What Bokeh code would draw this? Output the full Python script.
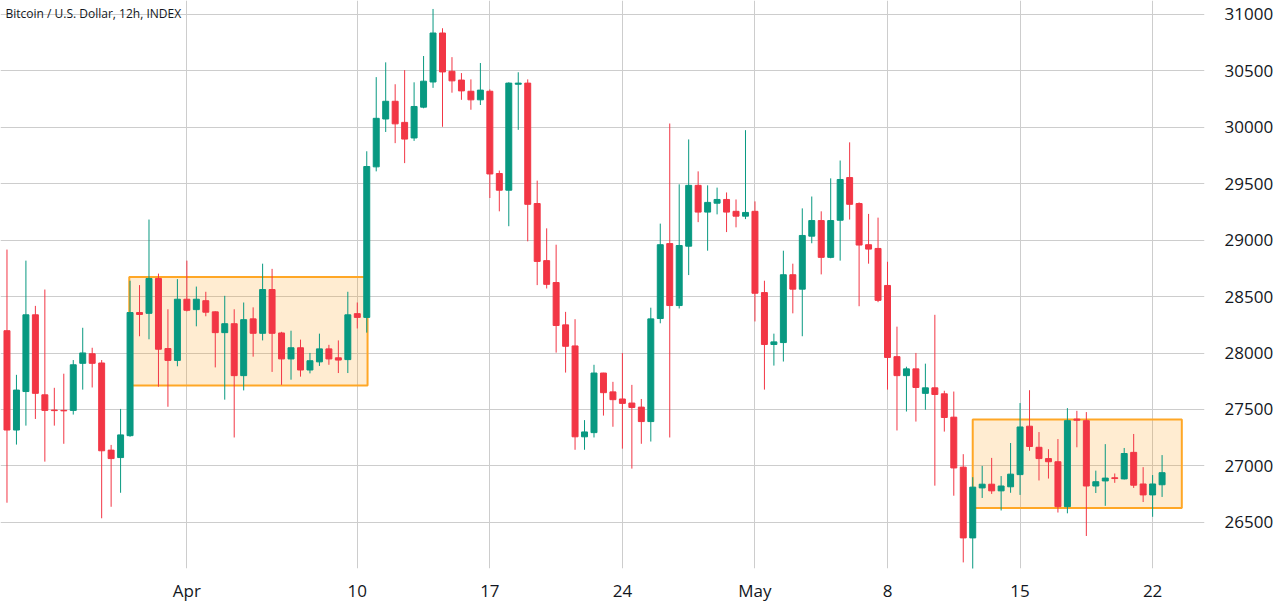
import pandas as pd
from bokeh.plotting import figure
from bokeh.models import ColumnDataSource, Range1d, FixedTicker, Label
from bokeh.embed import file_html
from bokeh.resources import INLINE

# ---------------- data (BTC/USD, 12h candles) ----------------
first_candle = "2023-03-22 12:00"
opens = [28198, 27318, 27659, 28339, 27630, 27495, 27492, 27492, 27909, 27994,
         27912, 27140, 27074, 27268, 28359, 28352, 28661, 28040, 27935, 28477,
         28385, 28464, 28365, 28181, 28260, 27800, 28303, 28175, 28563, 28178,
         27948, 28047, 27850, 27922, 28037, 27958, 27942, 28349, 28316, 29650,
         30074, 30231, 30044, 29906, 30179, 30402, 30836, 30497, 30419, 30320,
         30244, 30320, 29591, 29443, 30382, 30392, 29325, 28819, 28625, 28250,
         28063, 27258, 27295, 27823, 27656, 27593, 27557, 27521, 27393, 28306,
         28970, 28421, 28947, 29486, 29249, 29328, 29361, 29256, 29213, 29256,
         28536, 28076, 28093, 28694, 28566, 29036, 29174, 28848, 29177, 29555,
         29325, 28960, 28927, 28599, 27968, 27800, 27860, 27643, 27692, 27639,
         27432, 26989, 26362, 26805, 26838, 26779, 26815, 26923, 27352, 27165,
         27065, 27037, 26639, 27415, 27401, 26822, 26867, 26895, 26885, 27120,
         26840, 26743, 26833]
highs = [28917, 27807, 28819, 28418, 28563, 27692, 27817, 27938, 28224, 28047,
         27938, 27186, 27505, 28641, 28602, 29183, 28704, 28388, 28655, 28819,
         28589, 28543, 28370, 28507, 28388, 28448, 28405, 28792, 28746, 28188,
         28198, 28119, 28001, 28172, 28073, 28112, 28543, 28448, 29788, 30445,
         30576, 30382, 30507, 30399, 30632, 31049, 30878, 30622, 30481, 30425,
         30570, 30336, 29617, 30399, 30488, 30425, 29528, 29105, 28960, 28365,
         28300, 27406, 27896, 27825, 27745, 28000, 27718, 27593, 28402, 29147,
         30034, 29495, 29893, 29610, 29486, 29466, 29423, 29361, 29975, 29344,
         28641, 28172, 28907, 28792, 29282, 29387, 29256, 29548, 29706, 29867,
         29335, 29233, 29200, 28809, 28234, 27879, 28001, 27906, 28339, 27666,
         27659, 27104, 26900, 27000, 27071, 26910, 27203, 27557, 27671, 27300,
         27148, 27238, 27512, 27488, 27477, 26958, 27193, 26933, 27159, 27283,
         26989, 26919, 27096]
lows = [26674, 27189, 27357, 27416, 27038, 27357, 27196, 27455, 27676, 27695,
        26536, 26638, 26762, 27258, 28149, 28122, 27702, 27524, 27883, 28369,
        28237, 28326, 27873, 27587, 27252, 27669, 27968, 28112, 27833, 27718,
        27764, 27791, 27820, 27886, 27896, 27823, 27823, 28218, 28181, 29610,
        29959, 29860, 29683, 29880, 30169, 30350, 30005, 30307, 30244, 30156,
        30198, 29374, 29256, 29124, 29978, 28990, 28602, 28572, 28004, 27827,
        27143, 27143, 27252, 27446, 27347, 27153, 26976, 27196, 27216, 28264,
        27252, 28395, 28691, 29160, 28907, 29229, 29072, 29114, 29187, 28280,
        27676, 27889, 27925, 28352, 28149, 28973, 28697, 28840, 28819, 29183,
        28415, 28792, 28451, 27676, 27314, 27482, 27393, 27498, 26825, 27304,
        26736, 26145, 26043, 26716, 26752, 26605, 26762, 26743, 27134, 26871,
        26888, 26587, 26580, 27165, 26379, 26760, 26646, 26850, 26880, 26805,
        26680, 26549, 26725]
closes = [27318, 27672, 28339, 27643, 27492, 27490, 27488, 27896, 28001, 27909,
          27134, 27065, 27275, 28359, 28342, 28661, 28034, 27935, 28477, 28379,
          28477, 28362, 28181, 28260, 27800, 28296, 28175, 28563, 28175, 27948,
          28047, 27850, 27932, 28037, 27948, 27938, 28339, 28316, 29653, 30080,
          30231, 30031, 29896, 30185, 30409, 30836, 30491, 30412, 30323, 30244,
          30330, 29587, 29443, 30392, 30392, 29318, 28812, 28609, 28244, 28060,
          27258, 27301, 27823, 27649, 27587, 27554, 27518, 27393, 28303, 28960,
          28421, 28953, 29486, 29249, 29335, 29361, 29249, 29213, 29246, 28530,
          28076, 28099, 28694, 28566, 29042, 29174, 28848, 29174, 29538, 29318,
          28957, 28921, 28467, 27961, 27800, 27860, 27695, 27692, 27633, 27429,
          26982, 26362, 26812, 26838, 26779, 26822, 26927, 27345, 27172, 27065,
          27037, 26639, 27401, 27405, 26822, 26860, 26892, 26888, 27110, 26829,
          26743, 26840, 26940]

# consolidation ranges (highlight rectangles)
range_left = ["2023-03-28 23:00", "2023-05-12 12:00"]
range_right = ["2023-04-10 13:00", "2023-05-23 13:00"]
range_top = [28675, 27412]
range_bottom = [27712, 26628]

price_ticks = [26500, 27000, 27500, 28000, 28500, 29000, 29500, 30000, 30500, 31000]
date_ticks = ["2023-04-01", "2023-04-10", "2023-04-17", "2023-04-24",
              "2023-05-01", "2023-05-08", "2023-05-15", "2023-05-22"]
date_labels = ["Apr", "10", "17", "24", "May", "8", "15", "22"]
title_text = "Bitcoin / U.S. Dollar, 12h, INDEX"

# ---------------- build table ----------------
UP, DOWN = "#089981", "#f23645"
times = pd.date_range(first_candle, periods=len(opens), freq="12h")
df = pd.DataFrame({"t": times, "open": opens, "high": highs, "low": lows, "close": closes})
df["top"] = df[["open", "close"]].max(axis=1)
df["bottom"] = df[["open", "close"]].min(axis=1)
df["color"] = [UP if c >= o else DOWN for o, c in zip(df["open"], df["close"])]
src = ColumnDataSource(df)

boxes = ColumnDataSource(dict(
    left=pd.to_datetime(range_left), right=pd.to_datetime(range_right),
    top=range_top, bottom=range_bottom))

half_day = pd.Timedelta(hours=12)
x0 = pd.Timestamp("2023-04-01") - pd.Timedelta(days=9.842)
x1 = pd.Timestamp("2023-04-01") + pd.Timedelta(days=53.74)

W, H = 1276, 604
FRAME_W, FRAME_H = 1208, 568
p = figure(width=W, height=H, x_axis_type="datetime", y_axis_location="right",
           x_range=Range1d(x0, x1), y_range=Range1d(26091, 31124),
           output_backend="svg", toolbar_location=None,
           min_border_left=0, min_border_top=0,
           min_border_right=W - FRAME_W, min_border_bottom=H - FRAME_H)
p.outline_line_color = None
p.background_fill_color = "white"
p.border_fill_color = "white"

# rectangles
p.quad(left="left", right="right", top="top", bottom="bottom", source=boxes,
       fill_color="#ff9800", fill_alpha=0.18, line_color="#ffa726", line_width=2)

# candles
body_w = half_day.total_seconds() * 1000 * 0.63
p.segment(x0="t", y0="low", x1="t", y1="high", line_color="color", line_width=1, source=src)
p.vbar(x="t", width=body_w, top="top", bottom="bottom", fill_color="color",
       line_color="color", line_width=1, source=src)

# axes
tick_ms = [pd.Timestamp(d).value // 10**6 for d in date_ticks]
p.xaxis.ticker = FixedTicker(ticks=tick_ms)
p.xaxis.major_label_overrides = {float(t): lab for t, lab in zip(tick_ms, date_labels)}
p.xgrid.ticker = FixedTicker(ticks=tick_ms)
p.yaxis.ticker = FixedTicker(ticks=price_ticks)
p.ygrid.ticker = FixedTicker(ticks=price_ticks)

for ax in (p.xaxis[0], p.yaxis[0]):
    ax.axis_line_color = None
    ax.major_tick_line_color = None
    ax.minor_tick_line_color = None
    ax.major_label_text_font = "Open Sans"
    ax.major_label_text_font_size = "17px"
    ax.major_label_text_color = "#131722"
p.yaxis.major_label_standoff = 14
p.xaxis.major_label_standoff = 4

p.xgrid.grid_line_color = "#cdcdcd"
p.ygrid.grid_line_color = "#cdcdcd"
p.xgrid.grid_line_width = 1
p.ygrid.grid_line_width = 1

p.add_layout(Label(x=5, y=FRAME_H - 13, x_units="screen", y_units="screen", text=title_text,
                   text_font="Open Sans", text_font_size="12px", text_color="#131722",
                   text_baseline="middle"))

open("out.html", "w").write(file_html(p, INLINE))
